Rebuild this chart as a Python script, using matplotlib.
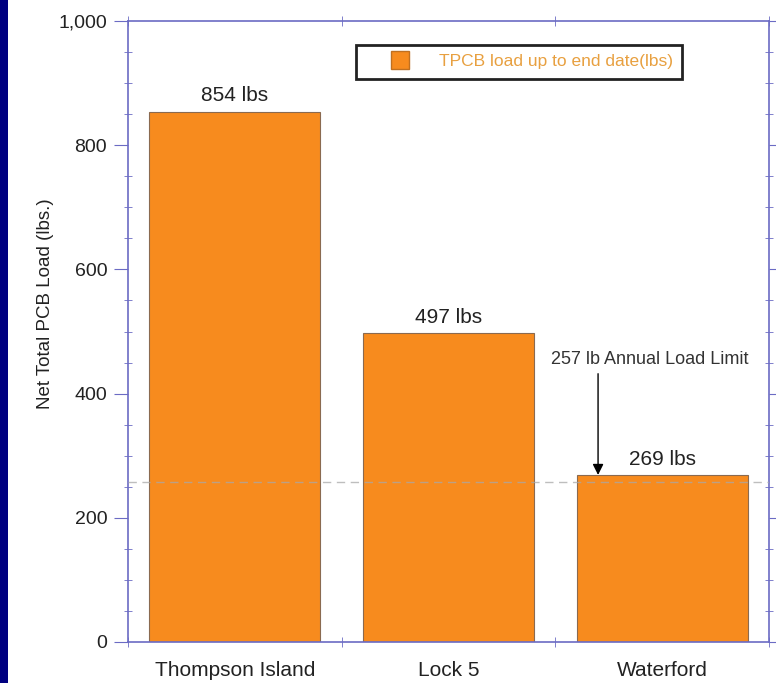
import matplotlib.pyplot as plt
from matplotlib.patches import Rectangle
from matplotlib.lines import Line2D
from matplotlib.ticker import MultipleLocator, FuncFormatter

plt.rcParams['font.family'] = ['Liberation Sans', 'DejaVu Sans']

# data
sites = ['Thompson Island', 'Lock 5', 'Waterford']
loads = [854, 497, 269]
bar_labels = ['854 lbs', '497 lbs', '269 lbs']
limit = 257
legend_text = 'TPCB load up to end date(lbs)'

orange = '#f78b1e'
spine_col = '#6b6bc4'

fig = plt.figure(figsize=(7.76, 6.83), dpi=100)
fig.patches.append(Rectangle((0, 0), 8 / 776, 1, transform=fig.transFigure,
                             facecolor='#000080', edgecolor='none', zorder=0))
ax = fig.add_axes([128 / 776, 41 / 683, 641 / 776, 621 / 683])

x = [i + 0.5 for i in range(len(sites))]
bars = ax.bar(x, loads, width=0.8, color=orange, edgecolor='#8a6a50',
              linewidth=0.8, zorder=2)

for xi, v, lab in zip(x, loads, bar_labels):
    ax.text(xi, v + 10, lab, ha='center', va='bottom', fontsize=15, color='#222222')

# limit line, faintly visible over the bars too
ax.axhline(limit, color='#a8a8a8', linestyle=(0, (6, 4)), linewidth=1.0,
           alpha=0.75, zorder=3)

ax.annotate('', xy=(2.2, limit + 12), xytext=(2.2, 432),
            arrowprops=dict(arrowstyle='-|>', color='black', lw=1.0,
                            mutation_scale=16, shrinkA=0, shrinkB=0))
ax.text(2.443, 455, '257 lb Annual Load Limit', ha='center', va='center',
        fontsize=13, color='#333333')

ax.set_xlim(0, 3)
ax.set_ylim(0, 1000)
ax.set_xticks(x)
ax.set_xticklabels(sites, fontsize=15, color='#222222')
ax.set_xticks([0, 1, 2, 3], minor=True)
ax.tick_params(axis='x', which='major', length=0, pad=14)
ax.tick_params(axis='x', which='minor', length=7, direction='inout',
               color=spine_col, top=True)

ax.yaxis.set_major_locator(MultipleLocator(200))
ax.yaxis.set_minor_locator(MultipleLocator(50))
ax.yaxis.set_major_formatter(FuncFormatter(lambda v, p: f'{int(v):,}'))
ax.tick_params(axis='y', which='major', length=10, direction='out', pad=5,
               color=spine_col, labelsize=14, labelcolor='#222222', right=True)
ax.tick_params(axis='y', which='minor', length=6, direction='inout',
               color=spine_col, right=True)
ax.set_ylabel('Net Total PCB Load (lbs.)', fontsize=13.5, color='#222222')
ax.yaxis.set_label_coords(-0.115, 0.545)

for s in ax.spines.values():
    s.set_color(spine_col)
    s.set_linewidth(1.2)

handle = Line2D([], [], marker='s', markersize=13, linestyle='none',
                markerfacecolor=orange, markeredgecolor='#c07020')
leg = ax.legend([handle], [legend_text], loc='upper left',
                bbox_to_anchor=(0.356, 0.962), fontsize=12.5,
                frameon=True, fancybox=False, handlelength=4.0,
                borderpad=0.55, borderaxespad=0, handletextpad=0.2)
leg.get_frame().set_edgecolor('#222222')
leg.get_frame().set_linewidth(2)
leg.get_frame().set_alpha(1)
for t in leg.get_texts():
    t.set_color('#e8a040')
leg.set_zorder(5)

fig.savefig('out.png', dpi=100)
